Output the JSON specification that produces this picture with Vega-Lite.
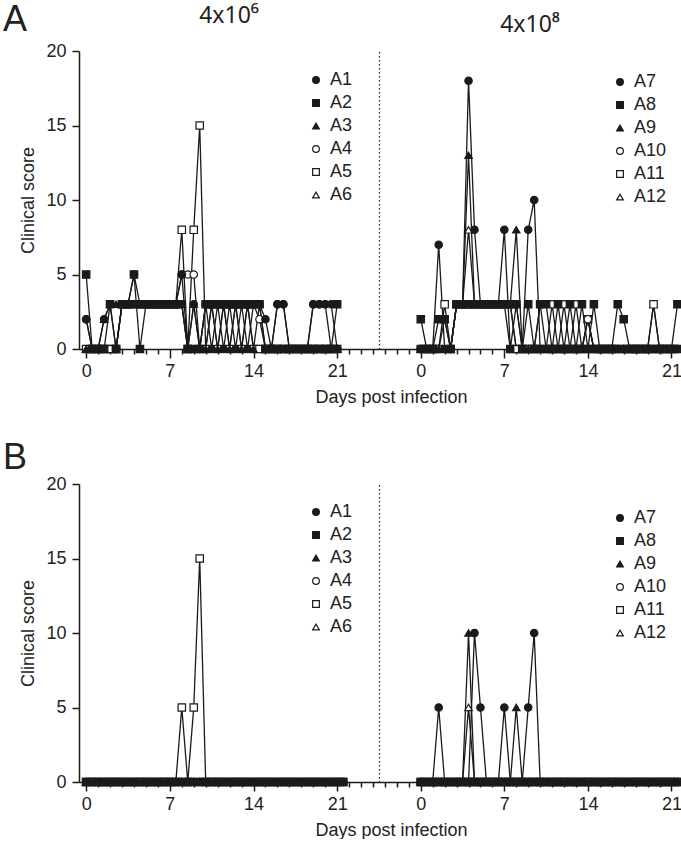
{
"$schema": "https://vega.github.io/schema/vega-lite/v6.json",
"padding": {"left": 2, "top": 2, "right": 0, "bottom": 0},
"background": "white",
"config": {
 "font": "Liberation Sans",
 "view": {"stroke": null},
 "axis": {"labelFont": "Liberation Sans", "labelFontSize": 18, "labelColor": "#222", "titleFont": "Liberation Sans", "titleFontSize": 18, "titleFontWeight": "normal", "titleColor": "#222", "domainColor": "#1a1a1a", "tickColor": "#1a1a1a", "domainWidth": 1.5, "tickWidth": 1.5, "grid": false},
 "title": {"font": "Liberation Sans", "fontWeight": "normal", "color": "#222"},
 "legend": {"title": null, "labelFont": "Liberation Sans", "labelFontSize": 18, "labelColor": "#222", "symbolSize": 45, "symbolStrokeColor": "#1a1a1a", "symbolStrokeWidth": 1.2, "rowPadding": 5, "labelOffset": 5, "padding": 0}
},
"datasets": {
"AL": [
{"a":"A6","t":0,"s":0},{"a":"A6","t":0.5,"s":0},{"a":"A6","t":1,"s":0},{"a":"A6","t":1.5,"s":0},{"a":"A6","t":2,"s":0},{"a":"A6","t":2.5,"s":0},{"a":"A6","t":3,"s":3},{"a":"A6","t":3.5,"s":3},{"a":"A6","t":4,"s":3},{"a":"A6","t":4.5,"s":3},{"a":"A6","t":5,"s":3},{"a":"A6","t":5.5,"s":3},{"a":"A6","t":6,"s":3},{"a":"A6","t":6.5,"s":3},{"a":"A6","t":7,"s":3},{"a":"A6","t":7.5,"s":3},{"a":"A6","t":8,"s":3},{"a":"A6","t":8.5,"s":0},{"a":"A6","t":9,"s":0},{"a":"A6","t":9.5,"s":0},{"a":"A6","t":10,"s":0},{"a":"A6","t":10.5,"s":0},{"a":"A6","t":11,"s":0},{"a":"A6","t":11.5,"s":0},{"a":"A6","t":12,"s":0},{"a":"A6","t":12.5,"s":0},{"a":"A6","t":13,"s":0},{"a":"A6","t":13.5,"s":0},{"a":"A6","t":14,"s":0},{"a":"A6","t":14.5,"s":0},{"a":"A6","t":15,"s":0},{"a":"A6","t":15.5,"s":0},{"a":"A6","t":16,"s":0},{"a":"A6","t":16.5,"s":0},{"a":"A6","t":17,"s":0},{"a":"A6","t":17.5,"s":0},{"a":"A6","t":18,"s":0},{"a":"A6","t":18.5,"s":0},{"a":"A6","t":19,"s":0},{"a":"A6","t":19.5,"s":0},{"a":"A6","t":20,"s":0},{"a":"A6","t":20.5,"s":0},{"a":"A6","t":21,"s":0},
{"a":"A5","t":0,"s":0},{"a":"A5","t":0.5,"s":0},{"a":"A5","t":1,"s":0},{"a":"A5","t":1.5,"s":0},{"a":"A5","t":2,"s":0},{"a":"A5","t":2.5,"s":0},{"a":"A5","t":3,"s":3},{"a":"A5","t":3.5,"s":3},{"a":"A5","t":4,"s":3},{"a":"A5","t":4.5,"s":3},{"a":"A5","t":5,"s":3},{"a":"A5","t":5.5,"s":3},{"a":"A5","t":6,"s":3},{"a":"A5","t":6.5,"s":3},{"a":"A5","t":7,"s":3},{"a":"A5","t":7.5,"s":3},{"a":"A5","t":8,"s":8},{"a":"A5","t":8.5,"s":0},{"a":"A5","t":9,"s":8},{"a":"A5","t":9.5,"s":15},{"a":"A5","t":10,"s":0},{"a":"A5","t":10.5,"s":3},{"a":"A5","t":11,"s":0},{"a":"A5","t":11.5,"s":3},{"a":"A5","t":12,"s":0},{"a":"A5","t":12.5,"s":3},{"a":"A5","t":13,"s":0},{"a":"A5","t":13.5,"s":3},{"a":"A5","t":14,"s":0},{"a":"A5","t":14.5,"s":0},{"a":"A5","t":15,"s":0},{"a":"A5","t":15.5,"s":0},{"a":"A5","t":16,"s":0},{"a":"A5","t":16.5,"s":0},{"a":"A5","t":17,"s":0},{"a":"A5","t":17.5,"s":0},{"a":"A5","t":18,"s":0},{"a":"A5","t":18.5,"s":0},{"a":"A5","t":19,"s":0},{"a":"A5","t":19.5,"s":0},{"a":"A5","t":20,"s":0},{"a":"A5","t":20.5,"s":0},{"a":"A5","t":21,"s":0},
{"a":"A4","t":0,"s":2},{"a":"A4","t":0.5,"s":0},{"a":"A4","t":1,"s":0},{"a":"A4","t":1.5,"s":0},{"a":"A4","t":2,"s":0},{"a":"A4","t":2.5,"s":0},{"a":"A4","t":3,"s":3},{"a":"A4","t":3.5,"s":3},{"a":"A4","t":4,"s":5},{"a":"A4","t":4.5,"s":3},{"a":"A4","t":5,"s":3},{"a":"A4","t":5.5,"s":3},{"a":"A4","t":6,"s":3},{"a":"A4","t":6.5,"s":3},{"a":"A4","t":7,"s":3},{"a":"A4","t":7.5,"s":3},{"a":"A4","t":8,"s":5},{"a":"A4","t":8.5,"s":5},{"a":"A4","t":9,"s":5},{"a":"A4","t":9.5,"s":0},{"a":"A4","t":10,"s":3},{"a":"A4","t":10.5,"s":3},{"a":"A4","t":11,"s":3},{"a":"A4","t":11.5,"s":3},{"a":"A4","t":12,"s":3},{"a":"A4","t":12.5,"s":3},{"a":"A4","t":13,"s":3},{"a":"A4","t":13.5,"s":3},{"a":"A4","t":14,"s":3},{"a":"A4","t":14.5,"s":2},{"a":"A4","t":15,"s":0},{"a":"A4","t":15.5,"s":0},{"a":"A4","t":16,"s":3},{"a":"A4","t":16.5,"s":3},{"a":"A4","t":17,"s":0},{"a":"A4","t":17.5,"s":0},{"a":"A4","t":18,"s":0},{"a":"A4","t":18.5,"s":0},{"a":"A4","t":19,"s":3},{"a":"A4","t":19.5,"s":3},{"a":"A4","t":20,"s":3},{"a":"A4","t":20.5,"s":0},{"a":"A4","t":21,"s":0},
{"a":"A3","t":0,"s":0},{"a":"A3","t":0.5,"s":0},{"a":"A3","t":1,"s":0},{"a":"A3","t":1.5,"s":2},{"a":"A3","t":2,"s":3},{"a":"A3","t":2.5,"s":3},{"a":"A3","t":3,"s":3},{"a":"A3","t":3.5,"s":3},{"a":"A3","t":4,"s":3},{"a":"A3","t":4.5,"s":3},{"a":"A3","t":5,"s":3},{"a":"A3","t":5.5,"s":3},{"a":"A3","t":6,"s":3},{"a":"A3","t":6.5,"s":3},{"a":"A3","t":7,"s":3},{"a":"A3","t":7.5,"s":3},{"a":"A3","t":8,"s":3},{"a":"A3","t":8.5,"s":0},{"a":"A3","t":9,"s":3},{"a":"A3","t":9.5,"s":0},{"a":"A3","t":10,"s":0},{"a":"A3","t":10.5,"s":3},{"a":"A3","t":11,"s":0},{"a":"A3","t":11.5,"s":3},{"a":"A3","t":12,"s":0},{"a":"A3","t":12.5,"s":3},{"a":"A3","t":13,"s":0},{"a":"A3","t":13.5,"s":3},{"a":"A3","t":14,"s":0},{"a":"A3","t":14.5,"s":3},{"a":"A3","t":15,"s":0},{"a":"A3","t":15.5,"s":0},{"a":"A3","t":16,"s":0},{"a":"A3","t":16.5,"s":0},{"a":"A3","t":17,"s":0},{"a":"A3","t":17.5,"s":0},{"a":"A3","t":18,"s":0},{"a":"A3","t":18.5,"s":0},{"a":"A3","t":19,"s":0},{"a":"A3","t":19.5,"s":0},{"a":"A3","t":20,"s":0},{"a":"A3","t":20.5,"s":0},{"a":"A3","t":21,"s":0},
{"a":"A1","t":0,"s":2},{"a":"A1","t":0.5,"s":0},{"a":"A1","t":1,"s":0},{"a":"A1","t":1.5,"s":2},{"a":"A1","t":2,"s":3},{"a":"A1","t":2.5,"s":0},{"a":"A1","t":3,"s":3},{"a":"A1","t":3.5,"s":3},{"a":"A1","t":4,"s":3},{"a":"A1","t":4.5,"s":3},{"a":"A1","t":5,"s":3},{"a":"A1","t":5.5,"s":3},{"a":"A1","t":6,"s":3},{"a":"A1","t":6.5,"s":3},{"a":"A1","t":7,"s":3},{"a":"A1","t":7.5,"s":3},{"a":"A1","t":8,"s":5},{"a":"A1","t":8.5,"s":0},{"a":"A1","t":9,"s":3},{"a":"A1","t":9.5,"s":0},{"a":"A1","t":10,"s":3},{"a":"A1","t":10.5,"s":0},{"a":"A1","t":11,"s":3},{"a":"A1","t":11.5,"s":0},{"a":"A1","t":12,"s":3},{"a":"A1","t":12.5,"s":0},{"a":"A1","t":13,"s":3},{"a":"A1","t":13.5,"s":0},{"a":"A1","t":14,"s":3},{"a":"A1","t":14.5,"s":3},{"a":"A1","t":15,"s":2},{"a":"A1","t":15.5,"s":0},{"a":"A1","t":16,"s":3},{"a":"A1","t":16.5,"s":3},{"a":"A1","t":17,"s":0},{"a":"A1","t":17.5,"s":0},{"a":"A1","t":18,"s":0},{"a":"A1","t":18.5,"s":0},{"a":"A1","t":19,"s":3},{"a":"A1","t":19.5,"s":3},{"a":"A1","t":20,"s":3},{"a":"A1","t":20.5,"s":3},{"a":"A1","t":21,"s":0},
{"a":"A2","t":0,"s":5},{"a":"A2","t":0.5,"s":0},{"a":"A2","t":1,"s":0},{"a":"A2","t":1.5,"s":0},{"a":"A2","t":2,"s":3},{"a":"A2","t":2.5,"s":0},{"a":"A2","t":3,"s":3},{"a":"A2","t":3.5,"s":3},{"a":"A2","t":4,"s":5},{"a":"A2","t":4.5,"s":0},{"a":"A2","t":5,"s":3},{"a":"A2","t":5.5,"s":3},{"a":"A2","t":6,"s":3},{"a":"A2","t":6.5,"s":3},{"a":"A2","t":7,"s":3},{"a":"A2","t":7.5,"s":3},{"a":"A2","t":8,"s":3},{"a":"A2","t":8.5,"s":0},{"a":"A2","t":9,"s":0},{"a":"A2","t":9.5,"s":0},{"a":"A2","t":10,"s":3},{"a":"A2","t":10.5,"s":3},{"a":"A2","t":11,"s":3},{"a":"A2","t":11.5,"s":3},{"a":"A2","t":12,"s":3},{"a":"A2","t":12.5,"s":3},{"a":"A2","t":13,"s":3},{"a":"A2","t":13.5,"s":3},{"a":"A2","t":14,"s":3},{"a":"A2","t":14.5,"s":3},{"a":"A2","t":15,"s":0},{"a":"A2","t":15.5,"s":0},{"a":"A2","t":16,"s":0},{"a":"A2","t":16.5,"s":0},{"a":"A2","t":17,"s":0},{"a":"A2","t":17.5,"s":0},{"a":"A2","t":18,"s":0},{"a":"A2","t":18.5,"s":0},{"a":"A2","t":19,"s":0},{"a":"A2","t":19.5,"s":0},{"a":"A2","t":20,"s":0},{"a":"A2","t":20.5,"s":0},{"a":"A2","t":21,"s":3}
],
"AR": [
{"a":"A12","t":0,"s":0},{"a":"A12","t":0.5,"s":0},{"a":"A12","t":1,"s":0},{"a":"A12","t":1.5,"s":0},{"a":"A12","t":2,"s":0},{"a":"A12","t":2.5,"s":0},{"a":"A12","t":3,"s":3},{"a":"A12","t":3.5,"s":3},{"a":"A12","t":4,"s":8},{"a":"A12","t":4.5,"s":3},{"a":"A12","t":5,"s":3},{"a":"A12","t":5.5,"s":3},{"a":"A12","t":6,"s":3},{"a":"A12","t":6.5,"s":3},{"a":"A12","t":7,"s":3},{"a":"A12","t":7.5,"s":3},{"a":"A12","t":8,"s":0},{"a":"A12","t":8.5,"s":0},{"a":"A12","t":9,"s":0},{"a":"A12","t":9.5,"s":0},{"a":"A12","t":10,"s":0},{"a":"A12","t":10.5,"s":0},{"a":"A12","t":11,"s":0},{"a":"A12","t":11.5,"s":0},{"a":"A12","t":12,"s":0},{"a":"A12","t":12.5,"s":0},{"a":"A12","t":13,"s":0},{"a":"A12","t":13.5,"s":0},{"a":"A12","t":14,"s":2},{"a":"A12","t":14.5,"s":0},{"a":"A12","t":15,"s":0},{"a":"A12","t":15.5,"s":0},{"a":"A12","t":16,"s":0},{"a":"A12","t":16.5,"s":0},{"a":"A12","t":17,"s":0},{"a":"A12","t":17.5,"s":0},{"a":"A12","t":18,"s":0},{"a":"A12","t":18.5,"s":0},{"a":"A12","t":19,"s":0},{"a":"A12","t":19.5,"s":3},{"a":"A12","t":20,"s":0},{"a":"A12","t":20.5,"s":0},{"a":"A12","t":21,"s":0},{"a":"A12","t":21.5,"s":0},
{"a":"A11","t":0,"s":0},{"a":"A11","t":0.5,"s":0},{"a":"A11","t":1,"s":0},{"a":"A11","t":1.5,"s":0},{"a":"A11","t":2,"s":3},{"a":"A11","t":2.5,"s":0},{"a":"A11","t":3,"s":3},{"a":"A11","t":3.5,"s":3},{"a":"A11","t":4,"s":3},{"a":"A11","t":4.5,"s":3},{"a":"A11","t":5,"s":3},{"a":"A11","t":5.5,"s":3},{"a":"A11","t":6,"s":3},{"a":"A11","t":6.5,"s":3},{"a":"A11","t":7,"s":3},{"a":"A11","t":7.5,"s":0},{"a":"A11","t":8,"s":0},{"a":"A11","t":8.5,"s":0},{"a":"A11","t":9,"s":0},{"a":"A11","t":9.5,"s":0},{"a":"A11","t":10,"s":0},{"a":"A11","t":10.5,"s":0},{"a":"A11","t":11,"s":0},{"a":"A11","t":11.5,"s":0},{"a":"A11","t":12,"s":0},{"a":"A11","t":12.5,"s":0},{"a":"A11","t":13,"s":0},{"a":"A11","t":13.5,"s":0},{"a":"A11","t":14,"s":2},{"a":"A11","t":14.5,"s":0},{"a":"A11","t":15,"s":0},{"a":"A11","t":15.5,"s":0},{"a":"A11","t":16,"s":0},{"a":"A11","t":16.5,"s":0},{"a":"A11","t":17,"s":0},{"a":"A11","t":17.5,"s":0},{"a":"A11","t":18,"s":0},{"a":"A11","t":18.5,"s":0},{"a":"A11","t":19,"s":0},{"a":"A11","t":19.5,"s":3},{"a":"A11","t":20,"s":0},{"a":"A11","t":20.5,"s":0},{"a":"A11","t":21,"s":0},{"a":"A11","t":21.5,"s":0},
{"a":"A10","t":0,"s":0},{"a":"A10","t":0.5,"s":0},{"a":"A10","t":1,"s":0},{"a":"A10","t":1.5,"s":0},{"a":"A10","t":2,"s":0},{"a":"A10","t":2.5,"s":0},{"a":"A10","t":3,"s":3},{"a":"A10","t":3.5,"s":3},{"a":"A10","t":4,"s":3},{"a":"A10","t":4.5,"s":3},{"a":"A10","t":5,"s":3},{"a":"A10","t":5.5,"s":3},{"a":"A10","t":6,"s":3},{"a":"A10","t":6.5,"s":3},{"a":"A10","t":7,"s":3},{"a":"A10","t":7.5,"s":3},{"a":"A10","t":8,"s":0},{"a":"A10","t":8.5,"s":0},{"a":"A10","t":9,"s":0},{"a":"A10","t":9.5,"s":0},{"a":"A10","t":10,"s":3},{"a":"A10","t":10.5,"s":0},{"a":"A10","t":11,"s":3},{"a":"A10","t":11.5,"s":0},{"a":"A10","t":12,"s":3},{"a":"A10","t":12.5,"s":0},{"a":"A10","t":13,"s":3},{"a":"A10","t":13.5,"s":0},{"a":"A10","t":14,"s":2},{"a":"A10","t":14.5,"s":0},{"a":"A10","t":15,"s":0},{"a":"A10","t":15.5,"s":0},{"a":"A10","t":16,"s":0},{"a":"A10","t":16.5,"s":0},{"a":"A10","t":17,"s":0},{"a":"A10","t":17.5,"s":0},{"a":"A10","t":18,"s":0},{"a":"A10","t":18.5,"s":0},{"a":"A10","t":19,"s":0},{"a":"A10","t":19.5,"s":0},{"a":"A10","t":20,"s":0},{"a":"A10","t":20.5,"s":0},{"a":"A10","t":21,"s":0},{"a":"A10","t":21.5,"s":0},
{"a":"A9","t":0,"s":0},{"a":"A9","t":0.5,"s":0},{"a":"A9","t":1,"s":0},{"a":"A9","t":1.5,"s":0},{"a":"A9","t":2,"s":2},{"a":"A9","t":2.5,"s":0},{"a":"A9","t":3,"s":3},{"a":"A9","t":3.5,"s":3},{"a":"A9","t":4,"s":13},{"a":"A9","t":4.5,"s":3},{"a":"A9","t":5,"s":3},{"a":"A9","t":5.5,"s":3},{"a":"A9","t":6,"s":3},{"a":"A9","t":6.5,"s":3},{"a":"A9","t":7,"s":3},{"a":"A9","t":7.5,"s":3},{"a":"A9","t":8,"s":8},{"a":"A9","t":8.5,"s":0},{"a":"A9","t":9,"s":0},{"a":"A9","t":9.5,"s":0},{"a":"A9","t":10,"s":0},{"a":"A9","t":10.5,"s":0},{"a":"A9","t":11,"s":0},{"a":"A9","t":11.5,"s":0},{"a":"A9","t":12,"s":0},{"a":"A9","t":12.5,"s":0},{"a":"A9","t":13,"s":0},{"a":"A9","t":13.5,"s":0},{"a":"A9","t":14,"s":0},{"a":"A9","t":14.5,"s":0},{"a":"A9","t":15,"s":0},{"a":"A9","t":15.5,"s":0},{"a":"A9","t":16,"s":0},{"a":"A9","t":16.5,"s":0},{"a":"A9","t":17,"s":0},{"a":"A9","t":17.5,"s":0},{"a":"A9","t":18,"s":0},{"a":"A9","t":18.5,"s":0},{"a":"A9","t":19,"s":0},{"a":"A9","t":19.5,"s":0},{"a":"A9","t":20,"s":0},{"a":"A9","t":20.5,"s":0},{"a":"A9","t":21,"s":0},{"a":"A9","t":21.5,"s":0},
{"a":"A7","t":0,"s":0},{"a":"A7","t":0.5,"s":0},{"a":"A7","t":1,"s":0},{"a":"A7","t":1.5,"s":7},{"a":"A7","t":2,"s":0},{"a":"A7","t":2.5,"s":0},{"a":"A7","t":3,"s":3},{"a":"A7","t":3.5,"s":3},{"a":"A7","t":4,"s":18},{"a":"A7","t":4.5,"s":8},{"a":"A7","t":5,"s":3},{"a":"A7","t":5.5,"s":3},{"a":"A7","t":6,"s":3},{"a":"A7","t":6.5,"s":3},{"a":"A7","t":7,"s":8},{"a":"A7","t":7.5,"s":0},{"a":"A7","t":8,"s":3},{"a":"A7","t":8.5,"s":0},{"a":"A7","t":9,"s":8},{"a":"A7","t":9.5,"s":10},{"a":"A7","t":10,"s":0},{"a":"A7","t":10.5,"s":0},{"a":"A7","t":11,"s":0},{"a":"A7","t":11.5,"s":0},{"a":"A7","t":12,"s":0},{"a":"A7","t":12.5,"s":0},{"a":"A7","t":13,"s":0},{"a":"A7","t":13.5,"s":0},{"a":"A7","t":14,"s":0},{"a":"A7","t":14.5,"s":0},{"a":"A7","t":15,"s":0},{"a":"A7","t":15.5,"s":0},{"a":"A7","t":16,"s":0},{"a":"A7","t":16.5,"s":0},{"a":"A7","t":17,"s":0},{"a":"A7","t":17.5,"s":0},{"a":"A7","t":18,"s":0},{"a":"A7","t":18.5,"s":0},{"a":"A7","t":19,"s":0},{"a":"A7","t":19.5,"s":0},{"a":"A7","t":20,"s":0},{"a":"A7","t":20.5,"s":0},{"a":"A7","t":21,"s":0},{"a":"A7","t":21.5,"s":0},
{"a":"A8","t":0,"s":2},{"a":"A8","t":0.5,"s":0},{"a":"A8","t":1,"s":0},{"a":"A8","t":1.5,"s":2},{"a":"A8","t":2,"s":2},{"a":"A8","t":2.5,"s":0},{"a":"A8","t":3,"s":3},{"a":"A8","t":3.5,"s":3},{"a":"A8","t":4,"s":3},{"a":"A8","t":4.5,"s":3},{"a":"A8","t":5,"s":3},{"a":"A8","t":5.5,"s":3},{"a":"A8","t":6,"s":3},{"a":"A8","t":6.5,"s":3},{"a":"A8","t":7,"s":3},{"a":"A8","t":7.5,"s":3},{"a":"A8","t":8,"s":3},{"a":"A8","t":8.5,"s":0},{"a":"A8","t":9,"s":3},{"a":"A8","t":9.5,"s":0},{"a":"A8","t":10,"s":3},{"a":"A8","t":10.5,"s":3},{"a":"A8","t":11,"s":0},{"a":"A8","t":11.5,"s":3},{"a":"A8","t":12,"s":0},{"a":"A8","t":12.5,"s":3},{"a":"A8","t":13,"s":0},{"a":"A8","t":13.5,"s":3},{"a":"A8","t":14,"s":0},{"a":"A8","t":14.5,"s":3},{"a":"A8","t":15,"s":0},{"a":"A8","t":15.5,"s":0},{"a":"A8","t":16,"s":0},{"a":"A8","t":16.5,"s":3},{"a":"A8","t":17,"s":2},{"a":"A8","t":17.5,"s":0},{"a":"A8","t":18,"s":0},{"a":"A8","t":18.5,"s":0},{"a":"A8","t":19,"s":0},{"a":"A8","t":19.5,"s":0},{"a":"A8","t":20,"s":0},{"a":"A8","t":20.5,"s":0},{"a":"A8","t":21,"s":0},{"a":"A8","t":21.5,"s":3}
],
"BL": [
{"a":"A6","t":0,"s":0},{"a":"A6","t":0.5,"s":0},{"a":"A6","t":1,"s":0},{"a":"A6","t":1.5,"s":0},{"a":"A6","t":2,"s":0},{"a":"A6","t":2.5,"s":0},{"a":"A6","t":3,"s":0},{"a":"A6","t":3.5,"s":0},{"a":"A6","t":4,"s":0},{"a":"A6","t":4.5,"s":0},{"a":"A6","t":5,"s":0},{"a":"A6","t":5.5,"s":0},{"a":"A6","t":6,"s":0},{"a":"A6","t":6.5,"s":0},{"a":"A6","t":7,"s":0},{"a":"A6","t":7.5,"s":0},{"a":"A6","t":8,"s":0},{"a":"A6","t":8.5,"s":0},{"a":"A6","t":9,"s":0},{"a":"A6","t":9.5,"s":0},{"a":"A6","t":10,"s":0},{"a":"A6","t":10.5,"s":0},{"a":"A6","t":11,"s":0},{"a":"A6","t":11.5,"s":0},{"a":"A6","t":12,"s":0},{"a":"A6","t":12.5,"s":0},{"a":"A6","t":13,"s":0},{"a":"A6","t":13.5,"s":0},{"a":"A6","t":14,"s":0},{"a":"A6","t":14.5,"s":0},{"a":"A6","t":15,"s":0},{"a":"A6","t":15.5,"s":0},{"a":"A6","t":16,"s":0},{"a":"A6","t":16.5,"s":0},{"a":"A6","t":17,"s":0},{"a":"A6","t":17.5,"s":0},{"a":"A6","t":18,"s":0},{"a":"A6","t":18.5,"s":0},{"a":"A6","t":19,"s":0},{"a":"A6","t":19.5,"s":0},{"a":"A6","t":20,"s":0},{"a":"A6","t":20.5,"s":0},{"a":"A6","t":21,"s":0},{"a":"A6","t":21.5,"s":0},
{"a":"A5","t":0,"s":0},{"a":"A5","t":0.5,"s":0},{"a":"A5","t":1,"s":0},{"a":"A5","t":1.5,"s":0},{"a":"A5","t":2,"s":0},{"a":"A5","t":2.5,"s":0},{"a":"A5","t":3,"s":0},{"a":"A5","t":3.5,"s":0},{"a":"A5","t":4,"s":0},{"a":"A5","t":4.5,"s":0},{"a":"A5","t":5,"s":0},{"a":"A5","t":5.5,"s":0},{"a":"A5","t":6,"s":0},{"a":"A5","t":6.5,"s":0},{"a":"A5","t":7,"s":0},{"a":"A5","t":7.5,"s":0},{"a":"A5","t":8,"s":5},{"a":"A5","t":8.5,"s":0},{"a":"A5","t":9,"s":5},{"a":"A5","t":9.5,"s":15},{"a":"A5","t":10,"s":0},{"a":"A5","t":10.5,"s":0},{"a":"A5","t":11,"s":0},{"a":"A5","t":11.5,"s":0},{"a":"A5","t":12,"s":0},{"a":"A5","t":12.5,"s":0},{"a":"A5","t":13,"s":0},{"a":"A5","t":13.5,"s":0},{"a":"A5","t":14,"s":0},{"a":"A5","t":14.5,"s":0},{"a":"A5","t":15,"s":0},{"a":"A5","t":15.5,"s":0},{"a":"A5","t":16,"s":0},{"a":"A5","t":16.5,"s":0},{"a":"A5","t":17,"s":0},{"a":"A5","t":17.5,"s":0},{"a":"A5","t":18,"s":0},{"a":"A5","t":18.5,"s":0},{"a":"A5","t":19,"s":0},{"a":"A5","t":19.5,"s":0},{"a":"A5","t":20,"s":0},{"a":"A5","t":20.5,"s":0},{"a":"A5","t":21,"s":0},{"a":"A5","t":21.5,"s":0},
{"a":"A4","t":0,"s":0},{"a":"A4","t":0.5,"s":0},{"a":"A4","t":1,"s":0},{"a":"A4","t":1.5,"s":0},{"a":"A4","t":2,"s":0},{"a":"A4","t":2.5,"s":0},{"a":"A4","t":3,"s":0},{"a":"A4","t":3.5,"s":0},{"a":"A4","t":4,"s":0},{"a":"A4","t":4.5,"s":0},{"a":"A4","t":5,"s":0},{"a":"A4","t":5.5,"s":0},{"a":"A4","t":6,"s":0},{"a":"A4","t":6.5,"s":0},{"a":"A4","t":7,"s":0},{"a":"A4","t":7.5,"s":0},{"a":"A4","t":8,"s":0},{"a":"A4","t":8.5,"s":0},{"a":"A4","t":9,"s":0},{"a":"A4","t":9.5,"s":0},{"a":"A4","t":10,"s":0},{"a":"A4","t":10.5,"s":0},{"a":"A4","t":11,"s":0},{"a":"A4","t":11.5,"s":0},{"a":"A4","t":12,"s":0},{"a":"A4","t":12.5,"s":0},{"a":"A4","t":13,"s":0},{"a":"A4","t":13.5,"s":0},{"a":"A4","t":14,"s":0},{"a":"A4","t":14.5,"s":0},{"a":"A4","t":15,"s":0},{"a":"A4","t":15.5,"s":0},{"a":"A4","t":16,"s":0},{"a":"A4","t":16.5,"s":0},{"a":"A4","t":17,"s":0},{"a":"A4","t":17.5,"s":0},{"a":"A4","t":18,"s":0},{"a":"A4","t":18.5,"s":0},{"a":"A4","t":19,"s":0},{"a":"A4","t":19.5,"s":0},{"a":"A4","t":20,"s":0},{"a":"A4","t":20.5,"s":0},{"a":"A4","t":21,"s":0},{"a":"A4","t":21.5,"s":0},
{"a":"A3","t":0,"s":0},{"a":"A3","t":0.5,"s":0},{"a":"A3","t":1,"s":0},{"a":"A3","t":1.5,"s":0},{"a":"A3","t":2,"s":0},{"a":"A3","t":2.5,"s":0},{"a":"A3","t":3,"s":0},{"a":"A3","t":3.5,"s":0},{"a":"A3","t":4,"s":0},{"a":"A3","t":4.5,"s":0},{"a":"A3","t":5,"s":0},{"a":"A3","t":5.5,"s":0},{"a":"A3","t":6,"s":0},{"a":"A3","t":6.5,"s":0},{"a":"A3","t":7,"s":0},{"a":"A3","t":7.5,"s":0},{"a":"A3","t":8,"s":0},{"a":"A3","t":8.5,"s":0},{"a":"A3","t":9,"s":0},{"a":"A3","t":9.5,"s":0},{"a":"A3","t":10,"s":0},{"a":"A3","t":10.5,"s":0},{"a":"A3","t":11,"s":0},{"a":"A3","t":11.5,"s":0},{"a":"A3","t":12,"s":0},{"a":"A3","t":12.5,"s":0},{"a":"A3","t":13,"s":0},{"a":"A3","t":13.5,"s":0},{"a":"A3","t":14,"s":0},{"a":"A3","t":14.5,"s":0},{"a":"A3","t":15,"s":0},{"a":"A3","t":15.5,"s":0},{"a":"A3","t":16,"s":0},{"a":"A3","t":16.5,"s":0},{"a":"A3","t":17,"s":0},{"a":"A3","t":17.5,"s":0},{"a":"A3","t":18,"s":0},{"a":"A3","t":18.5,"s":0},{"a":"A3","t":19,"s":0},{"a":"A3","t":19.5,"s":0},{"a":"A3","t":20,"s":0},{"a":"A3","t":20.5,"s":0},{"a":"A3","t":21,"s":0},{"a":"A3","t":21.5,"s":0},
{"a":"A1","t":0,"s":0},{"a":"A1","t":0.5,"s":0},{"a":"A1","t":1,"s":0},{"a":"A1","t":1.5,"s":0},{"a":"A1","t":2,"s":0},{"a":"A1","t":2.5,"s":0},{"a":"A1","t":3,"s":0},{"a":"A1","t":3.5,"s":0},{"a":"A1","t":4,"s":0},{"a":"A1","t":4.5,"s":0},{"a":"A1","t":5,"s":0},{"a":"A1","t":5.5,"s":0},{"a":"A1","t":6,"s":0},{"a":"A1","t":6.5,"s":0},{"a":"A1","t":7,"s":0},{"a":"A1","t":7.5,"s":0},{"a":"A1","t":8,"s":0},{"a":"A1","t":8.5,"s":0},{"a":"A1","t":9,"s":0},{"a":"A1","t":9.5,"s":0},{"a":"A1","t":10,"s":0},{"a":"A1","t":10.5,"s":0},{"a":"A1","t":11,"s":0},{"a":"A1","t":11.5,"s":0},{"a":"A1","t":12,"s":0},{"a":"A1","t":12.5,"s":0},{"a":"A1","t":13,"s":0},{"a":"A1","t":13.5,"s":0},{"a":"A1","t":14,"s":0},{"a":"A1","t":14.5,"s":0},{"a":"A1","t":15,"s":0},{"a":"A1","t":15.5,"s":0},{"a":"A1","t":16,"s":0},{"a":"A1","t":16.5,"s":0},{"a":"A1","t":17,"s":0},{"a":"A1","t":17.5,"s":0},{"a":"A1","t":18,"s":0},{"a":"A1","t":18.5,"s":0},{"a":"A1","t":19,"s":0},{"a":"A1","t":19.5,"s":0},{"a":"A1","t":20,"s":0},{"a":"A1","t":20.5,"s":0},{"a":"A1","t":21,"s":0},{"a":"A1","t":21.5,"s":0},
{"a":"A2","t":0,"s":0},{"a":"A2","t":0.5,"s":0},{"a":"A2","t":1,"s":0},{"a":"A2","t":1.5,"s":0},{"a":"A2","t":2,"s":0},{"a":"A2","t":2.5,"s":0},{"a":"A2","t":3,"s":0},{"a":"A2","t":3.5,"s":0},{"a":"A2","t":4,"s":0},{"a":"A2","t":4.5,"s":0},{"a":"A2","t":5,"s":0},{"a":"A2","t":5.5,"s":0},{"a":"A2","t":6,"s":0},{"a":"A2","t":6.5,"s":0},{"a":"A2","t":7,"s":0},{"a":"A2","t":7.5,"s":0},{"a":"A2","t":8,"s":0},{"a":"A2","t":8.5,"s":0},{"a":"A2","t":9,"s":0},{"a":"A2","t":9.5,"s":0},{"a":"A2","t":10,"s":0},{"a":"A2","t":10.5,"s":0},{"a":"A2","t":11,"s":0},{"a":"A2","t":11.5,"s":0},{"a":"A2","t":12,"s":0},{"a":"A2","t":12.5,"s":0},{"a":"A2","t":13,"s":0},{"a":"A2","t":13.5,"s":0},{"a":"A2","t":14,"s":0},{"a":"A2","t":14.5,"s":0},{"a":"A2","t":15,"s":0},{"a":"A2","t":15.5,"s":0},{"a":"A2","t":16,"s":0},{"a":"A2","t":16.5,"s":0},{"a":"A2","t":17,"s":0},{"a":"A2","t":17.5,"s":0},{"a":"A2","t":18,"s":0},{"a":"A2","t":18.5,"s":0},{"a":"A2","t":19,"s":0},{"a":"A2","t":19.5,"s":0},{"a":"A2","t":20,"s":0},{"a":"A2","t":20.5,"s":0},{"a":"A2","t":21,"s":0},{"a":"A2","t":21.5,"s":0}
],
"BR": [
{"a":"A12","t":0,"s":0},{"a":"A12","t":0.5,"s":0},{"a":"A12","t":1,"s":0},{"a":"A12","t":1.5,"s":0},{"a":"A12","t":2,"s":0},{"a":"A12","t":2.5,"s":0},{"a":"A12","t":3,"s":0},{"a":"A12","t":3.5,"s":0},{"a":"A12","t":4,"s":5},{"a":"A12","t":4.5,"s":0},{"a":"A12","t":5,"s":0},{"a":"A12","t":5.5,"s":0},{"a":"A12","t":6,"s":0},{"a":"A12","t":6.5,"s":0},{"a":"A12","t":7,"s":0},{"a":"A12","t":7.5,"s":0},{"a":"A12","t":8,"s":0},{"a":"A12","t":8.5,"s":0},{"a":"A12","t":9,"s":0},{"a":"A12","t":9.5,"s":0},{"a":"A12","t":10,"s":0},{"a":"A12","t":10.5,"s":0},{"a":"A12","t":11,"s":0},{"a":"A12","t":11.5,"s":0},{"a":"A12","t":12,"s":0},{"a":"A12","t":12.5,"s":0},{"a":"A12","t":13,"s":0},{"a":"A12","t":13.5,"s":0},{"a":"A12","t":14,"s":0},{"a":"A12","t":14.5,"s":0},{"a":"A12","t":15,"s":0},{"a":"A12","t":15.5,"s":0},{"a":"A12","t":16,"s":0},{"a":"A12","t":16.5,"s":0},{"a":"A12","t":17,"s":0},{"a":"A12","t":17.5,"s":0},{"a":"A12","t":18,"s":0},{"a":"A12","t":18.5,"s":0},{"a":"A12","t":19,"s":0},{"a":"A12","t":19.5,"s":0},{"a":"A12","t":20,"s":0},{"a":"A12","t":20.5,"s":0},{"a":"A12","t":21,"s":0},{"a":"A12","t":21.5,"s":0},
{"a":"A11","t":0,"s":0},{"a":"A11","t":0.5,"s":0},{"a":"A11","t":1,"s":0},{"a":"A11","t":1.5,"s":0},{"a":"A11","t":2,"s":0},{"a":"A11","t":2.5,"s":0},{"a":"A11","t":3,"s":0},{"a":"A11","t":3.5,"s":0},{"a":"A11","t":4,"s":0},{"a":"A11","t":4.5,"s":0},{"a":"A11","t":5,"s":0},{"a":"A11","t":5.5,"s":0},{"a":"A11","t":6,"s":0},{"a":"A11","t":6.5,"s":0},{"a":"A11","t":7,"s":0},{"a":"A11","t":7.5,"s":0},{"a":"A11","t":8,"s":0},{"a":"A11","t":8.5,"s":0},{"a":"A11","t":9,"s":0},{"a":"A11","t":9.5,"s":0},{"a":"A11","t":10,"s":0},{"a":"A11","t":10.5,"s":0},{"a":"A11","t":11,"s":0},{"a":"A11","t":11.5,"s":0},{"a":"A11","t":12,"s":0},{"a":"A11","t":12.5,"s":0},{"a":"A11","t":13,"s":0},{"a":"A11","t":13.5,"s":0},{"a":"A11","t":14,"s":0},{"a":"A11","t":14.5,"s":0},{"a":"A11","t":15,"s":0},{"a":"A11","t":15.5,"s":0},{"a":"A11","t":16,"s":0},{"a":"A11","t":16.5,"s":0},{"a":"A11","t":17,"s":0},{"a":"A11","t":17.5,"s":0},{"a":"A11","t":18,"s":0},{"a":"A11","t":18.5,"s":0},{"a":"A11","t":19,"s":0},{"a":"A11","t":19.5,"s":0},{"a":"A11","t":20,"s":0},{"a":"A11","t":20.5,"s":0},{"a":"A11","t":21,"s":0},{"a":"A11","t":21.5,"s":0},
{"a":"A10","t":0,"s":0},{"a":"A10","t":0.5,"s":0},{"a":"A10","t":1,"s":0},{"a":"A10","t":1.5,"s":0},{"a":"A10","t":2,"s":0},{"a":"A10","t":2.5,"s":0},{"a":"A10","t":3,"s":0},{"a":"A10","t":3.5,"s":0},{"a":"A10","t":4,"s":0},{"a":"A10","t":4.5,"s":0},{"a":"A10","t":5,"s":0},{"a":"A10","t":5.5,"s":0},{"a":"A10","t":6,"s":0},{"a":"A10","t":6.5,"s":0},{"a":"A10","t":7,"s":0},{"a":"A10","t":7.5,"s":0},{"a":"A10","t":8,"s":0},{"a":"A10","t":8.5,"s":0},{"a":"A10","t":9,"s":0},{"a":"A10","t":9.5,"s":0},{"a":"A10","t":10,"s":0},{"a":"A10","t":10.5,"s":0},{"a":"A10","t":11,"s":0},{"a":"A10","t":11.5,"s":0},{"a":"A10","t":12,"s":0},{"a":"A10","t":12.5,"s":0},{"a":"A10","t":13,"s":0},{"a":"A10","t":13.5,"s":0},{"a":"A10","t":14,"s":0},{"a":"A10","t":14.5,"s":0},{"a":"A10","t":15,"s":0},{"a":"A10","t":15.5,"s":0},{"a":"A10","t":16,"s":0},{"a":"A10","t":16.5,"s":0},{"a":"A10","t":17,"s":0},{"a":"A10","t":17.5,"s":0},{"a":"A10","t":18,"s":0},{"a":"A10","t":18.5,"s":0},{"a":"A10","t":19,"s":0},{"a":"A10","t":19.5,"s":0},{"a":"A10","t":20,"s":0},{"a":"A10","t":20.5,"s":0},{"a":"A10","t":21,"s":0},{"a":"A10","t":21.5,"s":0},
{"a":"A9","t":0,"s":0},{"a":"A9","t":0.5,"s":0},{"a":"A9","t":1,"s":0},{"a":"A9","t":1.5,"s":0},{"a":"A9","t":2,"s":0},{"a":"A9","t":2.5,"s":0},{"a":"A9","t":3,"s":0},{"a":"A9","t":3.5,"s":0},{"a":"A9","t":4,"s":10},{"a":"A9","t":4.5,"s":0},{"a":"A9","t":5,"s":0},{"a":"A9","t":5.5,"s":0},{"a":"A9","t":6,"s":0},{"a":"A9","t":6.5,"s":0},{"a":"A9","t":7,"s":0},{"a":"A9","t":7.5,"s":0},{"a":"A9","t":8,"s":5},{"a":"A9","t":8.5,"s":0},{"a":"A9","t":9,"s":0},{"a":"A9","t":9.5,"s":0},{"a":"A9","t":10,"s":0},{"a":"A9","t":10.5,"s":0},{"a":"A9","t":11,"s":0},{"a":"A9","t":11.5,"s":0},{"a":"A9","t":12,"s":0},{"a":"A9","t":12.5,"s":0},{"a":"A9","t":13,"s":0},{"a":"A9","t":13.5,"s":0},{"a":"A9","t":14,"s":0},{"a":"A9","t":14.5,"s":0},{"a":"A9","t":15,"s":0},{"a":"A9","t":15.5,"s":0},{"a":"A9","t":16,"s":0},{"a":"A9","t":16.5,"s":0},{"a":"A9","t":17,"s":0},{"a":"A9","t":17.5,"s":0},{"a":"A9","t":18,"s":0},{"a":"A9","t":18.5,"s":0},{"a":"A9","t":19,"s":0},{"a":"A9","t":19.5,"s":0},{"a":"A9","t":20,"s":0},{"a":"A9","t":20.5,"s":0},{"a":"A9","t":21,"s":0},{"a":"A9","t":21.5,"s":0},
{"a":"A7","t":0,"s":0},{"a":"A7","t":0.5,"s":0},{"a":"A7","t":1,"s":0},{"a":"A7","t":1.5,"s":5},{"a":"A7","t":2,"s":0},{"a":"A7","t":2.5,"s":0},{"a":"A7","t":3,"s":0},{"a":"A7","t":3.5,"s":0},{"a":"A7","t":4,"s":0},{"a":"A7","t":4.5,"s":10},{"a":"A7","t":5,"s":5},{"a":"A7","t":5.5,"s":0},{"a":"A7","t":6,"s":0},{"a":"A7","t":6.5,"s":0},{"a":"A7","t":7,"s":5},{"a":"A7","t":7.5,"s":0},{"a":"A7","t":8,"s":0},{"a":"A7","t":8.5,"s":0},{"a":"A7","t":9,"s":5},{"a":"A7","t":9.5,"s":10},{"a":"A7","t":10,"s":0},{"a":"A7","t":10.5,"s":0},{"a":"A7","t":11,"s":0},{"a":"A7","t":11.5,"s":0},{"a":"A7","t":12,"s":0},{"a":"A7","t":12.5,"s":0},{"a":"A7","t":13,"s":0},{"a":"A7","t":13.5,"s":0},{"a":"A7","t":14,"s":0},{"a":"A7","t":14.5,"s":0},{"a":"A7","t":15,"s":0},{"a":"A7","t":15.5,"s":0},{"a":"A7","t":16,"s":0},{"a":"A7","t":16.5,"s":0},{"a":"A7","t":17,"s":0},{"a":"A7","t":17.5,"s":0},{"a":"A7","t":18,"s":0},{"a":"A7","t":18.5,"s":0},{"a":"A7","t":19,"s":0},{"a":"A7","t":19.5,"s":0},{"a":"A7","t":20,"s":0},{"a":"A7","t":20.5,"s":0},{"a":"A7","t":21,"s":0},{"a":"A7","t":21.5,"s":0},
{"a":"A8","t":0,"s":0},{"a":"A8","t":0.5,"s":0},{"a":"A8","t":1,"s":0},{"a":"A8","t":1.5,"s":0},{"a":"A8","t":2,"s":0},{"a":"A8","t":2.5,"s":0},{"a":"A8","t":3,"s":0},{"a":"A8","t":3.5,"s":0},{"a":"A8","t":4,"s":0},{"a":"A8","t":4.5,"s":0},{"a":"A8","t":5,"s":0},{"a":"A8","t":5.5,"s":0},{"a":"A8","t":6,"s":0},{"a":"A8","t":6.5,"s":0},{"a":"A8","t":7,"s":0},{"a":"A8","t":7.5,"s":0},{"a":"A8","t":8,"s":0},{"a":"A8","t":8.5,"s":0},{"a":"A8","t":9,"s":0},{"a":"A8","t":9.5,"s":0},{"a":"A8","t":10,"s":0},{"a":"A8","t":10.5,"s":0},{"a":"A8","t":11,"s":0},{"a":"A8","t":11.5,"s":0},{"a":"A8","t":12,"s":0},{"a":"A8","t":12.5,"s":0},{"a":"A8","t":13,"s":0},{"a":"A8","t":13.5,"s":0},{"a":"A8","t":14,"s":0},{"a":"A8","t":14.5,"s":0},{"a":"A8","t":15,"s":0},{"a":"A8","t":15.5,"s":0},{"a":"A8","t":16,"s":0},{"a":"A8","t":16.5,"s":0},{"a":"A8","t":17,"s":0},{"a":"A8","t":17.5,"s":0},{"a":"A8","t":18,"s":0},{"a":"A8","t":18.5,"s":0},{"a":"A8","t":19,"s":0},{"a":"A8","t":19.5,"s":0},{"a":"A8","t":20,"s":0},{"a":"A8","t":20.5,"s":0},{"a":"A8","t":21,"s":0},{"a":"A8","t":21.5,"s":0}
]
},
"spacing": 34,
"vconcat": [
{
 "title": {"text": "A", "anchor": "start", "frame": "bounds", "fontSize": 36, "offset": 2, "dy": 36, "dx": -17},
 "spacing": 0,
 "bounds": "flush",
 "resolve": {"scale": {"x": "independent", "y": "independent", "shape": "independent", "fill": "independent", "stroke": "independent"}},
 "hconcat": [
  {
   "width": 300, "height": 298,
   "title": {"text": "4x10\u2076", "font": "Noto Sans", "fontSize": 23, "offset": 14},
   "data": {"name": "AL"},
   "encoding": {
    "x": {"field": "t", "type": "quantitative", "scale": {"domain": [-0.6, 24.5], "nice": false, "zero": false},
     "axis": {"values": [0,1,2,3,4,5,6,7,8,9,10,11,12,13,14,15,16,17,18,19,20,21,22,23,24], "labelExpr": "datum.value % 7 === 0 ? datum.label : ''", "tickSize": {"condition": {"test": "datum.value % 7 === 0", "value": 9}, "value": 5}, "labelFlush": false, "labelOverlap": false, "labelPadding": 4, "title": "Days post infection", "titleX": 312, "titlePadding": 8}},
    "y": {"field": "s", "type": "quantitative", "scale": {"domain": [0, 20], "nice": false},
     "axis": {"values": [0,5,10,15,20], "tickSize": 7, "labelPadding": 6, "title": "Clinical score", "titlePadding": 8}}
   },
   "layer": [
    {"mark": {"type": "line", "color": "#1a1a1a", "strokeWidth": 1.3}, "encoding": {"detail": {"field": "a"}}},
    {"mark": {"type": "point", "size": 55, "opacity": 1, "strokeWidth": 1.2},
     "encoding": {
      "shape": {"field": "a", "type": "nominal", "scale": {"domain": ["A1","A2","A3","A4","A5","A6"], "range": ["circle","square","triangle-up","circle","square","triangle-up"]}, "legend": {"orient": "none", "legendX": 228, "legendY": 20}},
      "fill": {"field": "a", "type": "nominal", "scale": {"domain": ["A1","A2","A3","A4","A5","A6"], "range": ["#1a1a1a","#1a1a1a","#1a1a1a","white","white","white"]}, "legend": {"orient": "none", "legendX": 228, "legendY": 20}},
      "stroke": {"field": "a", "type": "nominal", "scale": {"domain": ["A1","A2","A3","A4","A5","A6"], "range": ["#1a1a1a","#1a1a1a","#1a1a1a","#1a1a1a","#1a1a1a","#1a1a1a"]}, "legend": {"orient": "none", "legendX": 228, "legendY": 20}}
     }}
   ]
  },
  {
   "width": 302, "height": 298,
   "title": {"text": "4x10\u2078", "font": "Noto Sans", "fontSize": 23, "offset": 14},
   "data": {"name": "AR"},
   "encoding": {
    "x": {"field": "t", "type": "quantitative", "scale": {"domain": [-3.5, 21.8], "nice": false, "zero": false},
     "axis": {"values": [-3,-2,-1,0,1,2,3,4,5,6,7,8,9,10,11,12,13,14,15,16,17,18,19,20,21], "labelExpr": "datum.value >= 0 && datum.value % 7 === 0 ? datum.label : ''", "tickSize": {"condition": {"test": "datum.value % 7 === 0", "value": 9}, "value": 5}, "labelFlush": false, "labelOverlap": false, "labelPadding": 4, "title": null}},
    "y": {"field": "s", "type": "quantitative", "scale": {"domain": [0, 20], "nice": false},
     "axis": {"title": null, "labels": false, "ticks": false, "domainDash": [1.5, 2.5], "domainWidth": 1.2}}
   },
   "layer": [
    {"mark": {"type": "line", "color": "#1a1a1a", "strokeWidth": 1.3}, "encoding": {"detail": {"field": "a"}}},
    {"mark": {"type": "point", "size": 55, "opacity": 1, "strokeWidth": 1.2},
     "encoding": {
      "shape": {"field": "a", "type": "nominal", "scale": {"domain": ["A7","A8","A9","A10","A11","A12"], "range": ["circle","square","triangle-up","circle","square","triangle-up"]}, "legend": {"orient": "none", "legendX": 232, "legendY": 22}},
      "fill": {"field": "a", "type": "nominal", "scale": {"domain": ["A7","A8","A9","A10","A11","A12"], "range": ["#1a1a1a","#1a1a1a","#1a1a1a","white","white","white"]}, "legend": {"orient": "none", "legendX": 232, "legendY": 22}},
      "stroke": {"field": "a", "type": "nominal", "scale": {"domain": ["A7","A8","A9","A10","A11","A12"], "range": ["#1a1a1a","#1a1a1a","#1a1a1a","#1a1a1a","#1a1a1a","#1a1a1a"]}, "legend": {"orient": "none", "legendX": 232, "legendY": 22}}
     }}
   ]
  }
 ]
},
{
 "title": {"text": "B", "anchor": "start", "frame": "bounds", "fontSize": 36, "offset": 2, "dy": 4, "dx": -17},
 "spacing": 0,
 "bounds": "flush",
 "resolve": {"scale": {"x": "independent", "y": "independent", "shape": "independent", "fill": "independent", "stroke": "independent"}},
 "hconcat": [
  {
   "width": 300, "height": 298,
   "data": {"name": "BL"},
   "encoding": {
    "x": {"field": "t", "type": "quantitative", "scale": {"domain": [-0.6, 24.5], "nice": false, "zero": false},
     "axis": {"values": [0,1,2,3,4,5,6,7,8,9,10,11,12,13,14,15,16,17,18,19,20,21,22,23,24], "labelExpr": "datum.value % 7 === 0 ? datum.label : ''", "tickSize": {"condition": {"test": "datum.value % 7 === 0", "value": 9}, "value": 5}, "labelFlush": false, "labelOverlap": false, "labelPadding": 4, "title": "Days post infection", "titleX": 312, "titlePadding": 8}},
    "y": {"field": "s", "type": "quantitative", "scale": {"domain": [0, 20], "nice": false},
     "axis": {"values": [0,5,10,15,20], "tickSize": 7, "labelPadding": 6, "title": "Clinical score", "titlePadding": 8}}
   },
   "layer": [
    {"mark": {"type": "line", "color": "#1a1a1a", "strokeWidth": 1.3}, "encoding": {"detail": {"field": "a"}}},
    {"mark": {"type": "point", "size": 55, "opacity": 1, "strokeWidth": 1.2},
     "encoding": {
      "shape": {"field": "a", "type": "nominal", "scale": {"domain": ["A1","A2","A3","A4","A5","A6"], "range": ["circle","square","triangle-up","circle","square","triangle-up"]}, "legend": {"orient": "none", "legendX": 228, "legendY": 19}},
      "fill": {"field": "a", "type": "nominal", "scale": {"domain": ["A1","A2","A3","A4","A5","A6"], "range": ["#1a1a1a","#1a1a1a","#1a1a1a","white","white","white"]}, "legend": {"orient": "none", "legendX": 228, "legendY": 19}},
      "stroke": {"field": "a", "type": "nominal", "scale": {"domain": ["A1","A2","A3","A4","A5","A6"], "range": ["#1a1a1a","#1a1a1a","#1a1a1a","#1a1a1a","#1a1a1a","#1a1a1a"]}, "legend": {"orient": "none", "legendX": 228, "legendY": 19}}
     }}
   ]
  },
  {
   "width": 302, "height": 298,
   "data": {"name": "BR"},
   "encoding": {
    "x": {"field": "t", "type": "quantitative", "scale": {"domain": [-3.5, 21.8], "nice": false, "zero": false},
     "axis": {"values": [-3,-2,-1,0,1,2,3,4,5,6,7,8,9,10,11,12,13,14,15,16,17,18,19,20,21], "labelExpr": "datum.value >= 0 && datum.value % 7 === 0 ? datum.label : ''", "tickSize": {"condition": {"test": "datum.value % 7 === 0", "value": 9}, "value": 5}, "labelFlush": false, "labelOverlap": false, "labelPadding": 4, "title": null}},
    "y": {"field": "s", "type": "quantitative", "scale": {"domain": [0, 20], "nice": false},
     "axis": {"title": null, "labels": false, "ticks": false, "domainDash": [1.5, 2.5], "domainWidth": 1.2}}
   },
   "layer": [
    {"mark": {"type": "line", "color": "#1a1a1a", "strokeWidth": 1.3}, "encoding": {"detail": {"field": "a"}}},
    {"mark": {"type": "point", "size": 55, "opacity": 1, "strokeWidth": 1.2},
     "encoding": {
      "shape": {"field": "a", "type": "nominal", "scale": {"domain": ["A7","A8","A9","A10","A11","A12"], "range": ["circle","square","triangle-up","circle","square","triangle-up"]}, "legend": {"orient": "none", "legendX": 232, "legendY": 25}},
      "fill": {"field": "a", "type": "nominal", "scale": {"domain": ["A7","A8","A9","A10","A11","A12"], "range": ["#1a1a1a","#1a1a1a","#1a1a1a","white","white","white"]}, "legend": {"orient": "none", "legendX": 232, "legendY": 25}},
      "stroke": {"field": "a", "type": "nominal", "scale": {"domain": ["A7","A8","A9","A10","A11","A12"], "range": ["#1a1a1a","#1a1a1a","#1a1a1a","#1a1a1a","#1a1a1a","#1a1a1a"]}, "legend": {"orient": "none", "legendX": 232, "legendY": 25}}
     }}
   ]
  }
 ]
}
]
}
